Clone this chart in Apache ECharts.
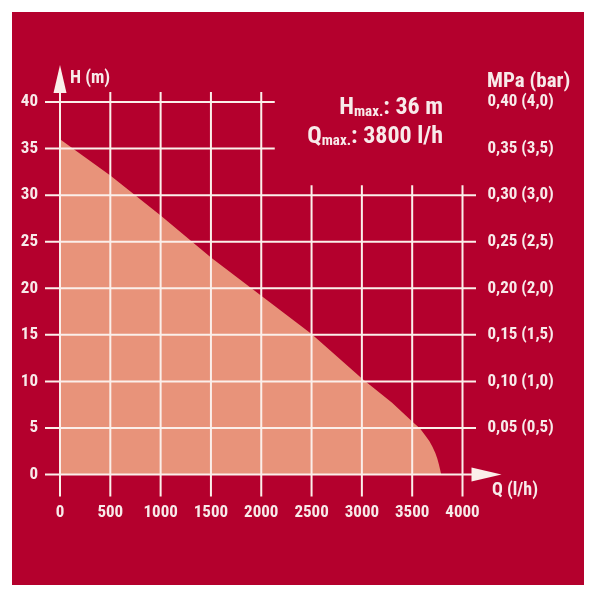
<!DOCTYPE html>
<html>
<head>
<meta charset="utf-8">
<script src="https://cdn.jsdelivr.net/npm/echarts@6/dist/echarts.min.js"></script>
<style>
html,body{margin:0;padding:0;background:#fff;}
#chart{width:595px;height:595px;}
</style>
</head>
<body>
<div id="chart"></div>
<script>
// ---- data ----
const flowQ = [0, 500, 1000, 1500, 2000, 2500, 3000, 3300, 3500, 3580, 3630, 3670, 3700, 3730, 3750, 3765, 3778, 3788];
const headH = [36, 32.1, 27.8, 23.3, 19.2, 15.1, 10.3, 7.7, 5.7, 4.9, 4.2, 3.6, 3.0, 2.3, 1.7, 1.1, 0.5, 0];
const xTicks = [0, 500, 1000, 1500, 2000, 2500, 3000, 3500, 4000];
const yTicks = [0, 5, 10, 15, 20, 25, 30, 35, 40];
const pressureLabels = ['', '0,05 (0,5)', '0,10 (1,0)', '0,15 (1,5)', '0,20 (2,0)', '0,25 (2,5)', '0,30 (3,0)', '0,35 (3,5)', '0,40 (4,0)'];
const hMaxText = '36 m';
const qMaxText = '3800 l/h';

// ---- style ----
const RED = '#b4002d';
const SALMON = '#e8937a';
const LINE = '#fbefea';
const TXT = '#f8eaea';
const FONT = "'Roboto Condensed', 'Liberation Sans Narrow', 'Arial Narrow', Roboto, sans-serif";

const chart = echarts.init(document.getElementById('chart'), null, {renderer: 'canvas'});

const areaData = flowQ.map((q, i) => [q, headH[i]]);

function gridHRender(params, api) {
  const y = api.value(1);
  const xEnd = y > 30 ? 2000 : 4000;
  const p0 = api.coord([0, y]);
  const p1 = api.coord([xEnd, y]);
  const children = [];
  const endX = y === 0 ? p1[0] + 10 : p1[0] + 13.5;
  children.push({
    type: 'line',
    shape: {x1: p0[0] - 15, y1: p0[1], x2: endX, y2: p1[1]},
    style: {stroke: LINE, lineWidth: 2}
  });
  if (y === 0) {
    children.push({
      type: 'polygon',
      shape: {points: [[p1[0] + 9, p1[1] - 7], [p1[0] + 39, p1[1]], [p1[0] + 9, p1[1] + 7]]},
      style: {fill: LINE}
    });
  }
  return {type: 'group', children: children};
}

function gridVRender(params, api) {
  const x = api.value(0);
  const yTop = x > 2000 ? 30 : 40;
  const p0 = api.coord([x, 0]);
  const p1 = api.coord([x, yTop]);
  const children = [];
  children.push({
    type: 'line',
    shape: {x1: p0[0], y1: p0[1] + 22, x2: p1[0], y2: p1[1] - (x === 0 ? 9 : 10)},
    style: {stroke: LINE, lineWidth: 2}
  });
  if (x === 0) {
    children.push({
      type: 'polygon',
      shape: {points: [[p1[0] - 6.5, p1[1] - 9], [p1[0], p1[1] - 37], [p1[0] + 6.5, p1[1] - 9]]},
      style: {fill: LINE}
    });
  }
  return {type: 'group', children: children};
}

const axisLabelBase = {color: TXT, fontFamily: FONT, fontWeight: 'bold', fontSize: 17};

chart.setOption({
  backgroundColor: '#ffffff',
  animation: false,
  grid: {left: 60, right: 132.5, top: 102, bottom: 120.5, containLabel: false},
  xAxis: {
    type: 'value', min: 0, max: 4000, interval: 500,
    axisLine: {show: false}, axisTick: {show: false}, splitLine: {show: false},
    axisLabel: Object.assign({margin: 30, formatter: function (v) { return String(v); }}, axisLabelBase)
  },
  yAxis: [
    {
      type: 'value', min: 0, max: 40, interval: 5, position: 'left',
      axisLine: {show: false}, axisTick: {show: false}, splitLine: {show: false},
      axisLabel: Object.assign({margin: 22, formatter: function (v) { return String(v); }}, axisLabelBase)
    },
    {
      type: 'value', min: 0, max: 40, interval: 5, position: 'right',
      axisLine: {show: false}, axisTick: {show: false}, splitLine: {show: false},
      axisLabel: Object.assign({margin: 25, formatter: function (v) { return pressureLabels[yTicks.indexOf(v)] || ''; }}, axisLabelBase)
    }
  ],
  graphic: [
    {type: 'rect', z: -10, silent: true, shape: {x: 12, y: 12, width: 572, height: 573}, style: {fill: RED}},
    {type: 'text', z: 10, x: 70, y: 78, style: {text: 'H (m)', fill: TXT, font: 'bold 18px ' + FONT, textVerticalAlign: 'middle'}},
    {type: 'text', z: 10, x: 492, y: 490, style: {text: 'Q (l/h)', fill: TXT, font: 'bold 18px ' + FONT, textVerticalAlign: 'middle'}},
    {type: 'text', z: 10, x: 487, y: 82, style: {text: 'MPa (bar)', fill: TXT, font: 'bold 21px ' + FONT, textVerticalAlign: 'middle'}},
    {type: 'text', z: 10, x: 443, y: 107, style: {
      text: '{b|H}{s|max.}{b|: ' + hMaxText + '}', textAlign: 'right', textVerticalAlign: 'middle',
      rich: {
        b: {fill: TXT, fontFamily: FONT, fontWeight: 'bold', fontSize: 24, lineHeight: 26, verticalAlign: 'bottom'},
        s: {fill: TXT, fontFamily: FONT, fontWeight: 'bold', fontSize: 15, lineHeight: 14, verticalAlign: 'bottom'}
      }
    }},
    {type: 'text', z: 10, x: 443, y: 136, style: {
      text: '{b|Q}{s|max.}{b|: ' + qMaxText + '}', textAlign: 'right', textVerticalAlign: 'middle',
      rich: {
        b: {fill: TXT, fontFamily: FONT, fontWeight: 'bold', fontSize: 24, lineHeight: 26, verticalAlign: 'bottom'},
        s: {fill: TXT, fontFamily: FONT, fontWeight: 'bold', fontSize: 15, lineHeight: 14, verticalAlign: 'bottom'}
      }
    }}
  ],
  series: [
    {
      type: 'line', data: areaData, smooth: false, showSymbol: false, symbol: 'none',
      lineStyle: {width: 0, color: SALMON}, areaStyle: {color: SALMON, opacity: 1}, z: 1
    },
    {
      type: 'custom', name: 'gridH', clip: false, z: 5,
      data: yTicks.map(v => [0, v]), encode: {x: 0, y: 1},
      renderItem: gridHRender
    },
    {
      type: 'custom', name: 'gridV', clip: false, z: 5,
      data: xTicks.map(v => [v, 0]), encode: {x: 0, y: 1},
      renderItem: gridVRender
    }
  ]
});
</script>
</body>
</html>
